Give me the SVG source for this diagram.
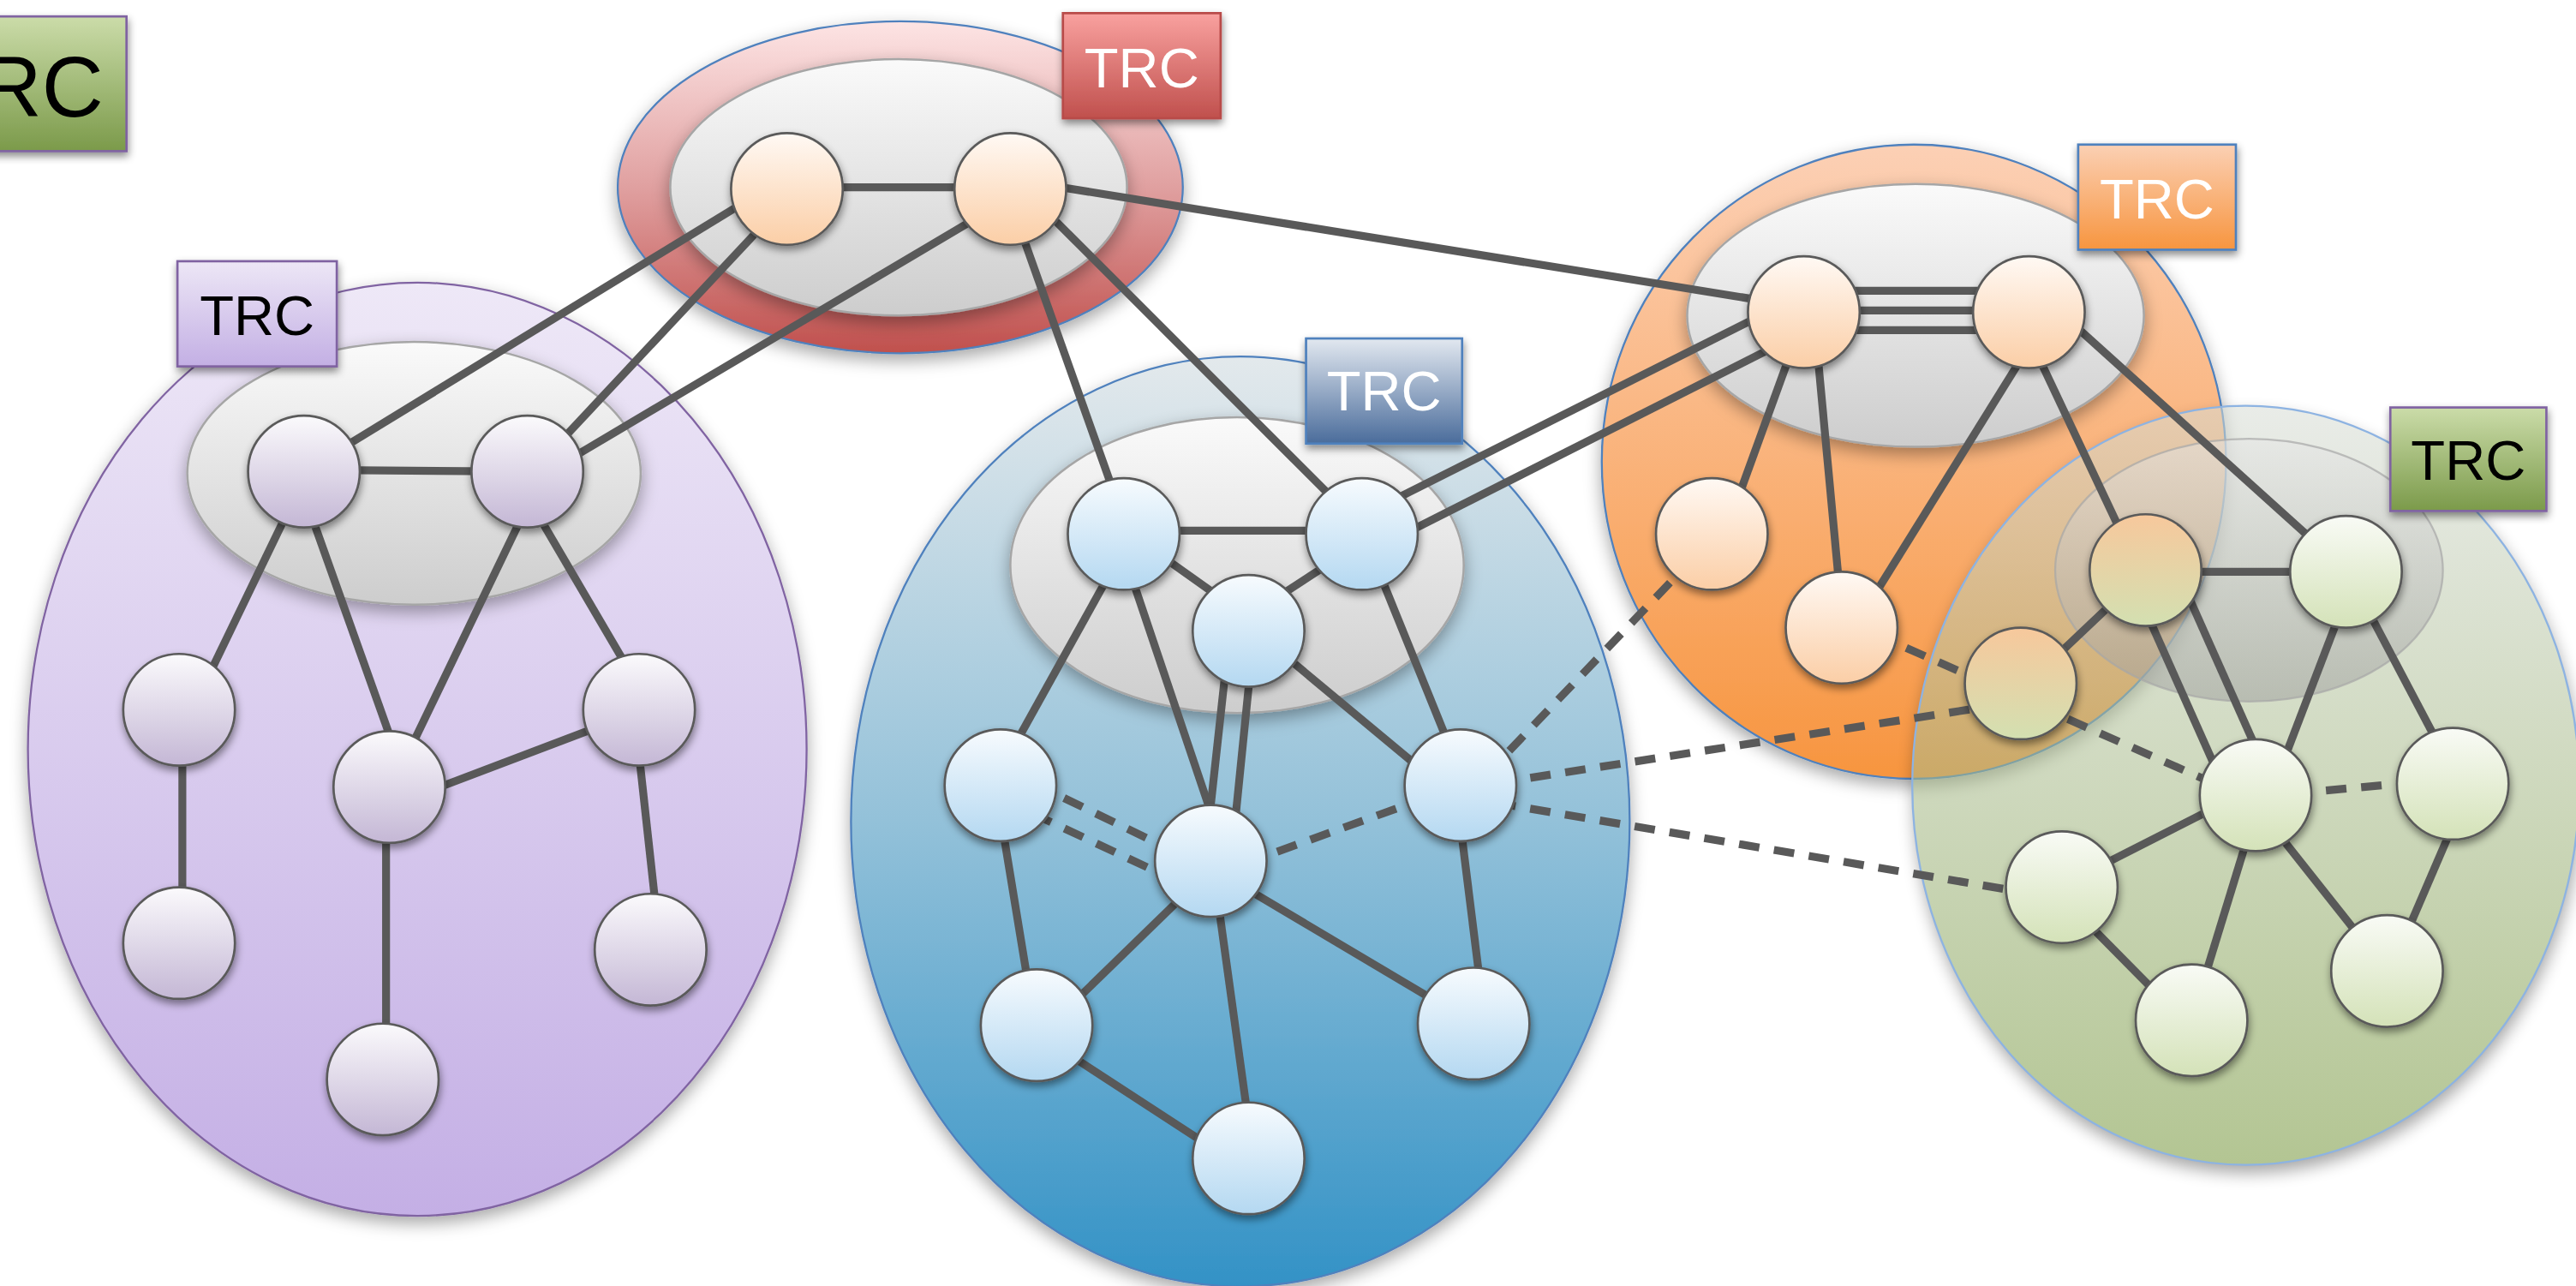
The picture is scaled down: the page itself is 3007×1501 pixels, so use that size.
<svg xmlns="http://www.w3.org/2000/svg" width="3007" height="1501" viewBox="0 0 3007 1501">
  <style>
    .edge { stroke: #595959; stroke-width: 4.8; fill: none; stroke-linecap: butt; }
    .dash { stroke-dasharray: 12.5 9; }
    .node { stroke: #5a5a5a; stroke-width: 1.4; filter: url(#nodeShadow); }
    .core { stroke: #a6a6a6; stroke-width: 1.3; fill: url(#gCore); filter: url(#clusterShadow); }
    .trc rect { stroke-width: 1.4; filter: url(#nodeShadow); }
    .trc text { font-family: "Liberation Sans", Arial, Helvetica, sans-serif; font-size: 34px; text-anchor: middle; }
    .pNode { fill: url(#gNodePurple); }
    .rNode { fill: url(#gNodePeach); }
    .bNode { fill: url(#gNodeBlue); }
    .gNode { fill: url(#gNodeGreen); }
    .tNode { fill: url(#gNodeTan); }
  </style>
  <defs>
    <filter id="clusterShadow" x="-20%" y="-20%" width="140%" height="150%">
      <feDropShadow dx="0" dy="4" stdDeviation="5" flood-color="#000" flood-opacity="0.35"/>
    </filter>
    <filter id="nodeShadow" x="-40%" y="-40%" width="180%" height="190%">
      <feDropShadow dx="0.5" dy="2.5" stdDeviation="2.5" flood-color="#000" flood-opacity="0.45"/>
    </filter>
    <filter id="softBlur" x="-20%" y="-20%" width="140%" height="150%">
      <feGaussianBlur stdDeviation="5"/>
    </filter>
    <mask id="outsideGreen" maskUnits="userSpaceOnUse" x="1100" y="200" width="520" height="600">
      <rect x="1100" y="200" width="520" height="600" fill="#fff"/>
      <ellipse cx="1367" cy="478" rx="203" ry="231" fill="#000"/>
    </mask>

    <!-- cluster fills -->
    <linearGradient id="gPurple" x1="0" y1="0" x2="0" y2="1">
      <stop offset="0" stop-color="#eee8f7"/><stop offset="1" stop-color="#c4afe5"/>
    </linearGradient>
    <linearGradient id="gRed" x1="0" y1="0" x2="0" y2="1">
      <stop offset="0" stop-color="#fde4e4"/><stop offset="0.5" stop-color="#e0a0a0"/><stop offset="1" stop-color="#c0504d"/>
    </linearGradient>
    <linearGradient id="gBlue" x1="0" y1="0" x2="0" y2="1">
      <stop offset="0" stop-color="#e3e9ec"/><stop offset="0.5" stop-color="#93c1d9"/><stop offset="1" stop-color="#3392c6"/>
    </linearGradient>
    <linearGradient id="gOrange" x1="0" y1="0" x2="0" y2="1">
      <stop offset="0" stop-color="#fcd0b5"/><stop offset="1" stop-color="#f7953f"/>
    </linearGradient>
    <linearGradient id="gGreen" x1="0" y1="0" x2="0" y2="1">
      <stop offset="0" stop-color="#d7dcd5" stop-opacity="0.55"/><stop offset="1" stop-color="#75963a" stop-opacity="0.55"/>
    </linearGradient>
    <linearGradient id="gCore" x1="0" y1="0" x2="0" y2="1">
      <stop offset="0" stop-color="#fafafa"/><stop offset="1" stop-color="#cdcdcd"/>
    </linearGradient>
    <linearGradient id="gCoreGlass" x1="0" y1="0" x2="0" y2="1">
      <stop offset="0" stop-color="#e6e6e6" stop-opacity="0.5"/><stop offset="1" stop-color="#9c9c9c" stop-opacity="0.5"/>
    </linearGradient>

    <!-- node fills -->
    <linearGradient id="gNodePurple" x1="0" y1="0" x2="0" y2="1">
      <stop offset="0" stop-color="#fbfafc"/><stop offset="1" stop-color="#c4b7d5"/>
    </linearGradient>
    <linearGradient id="gNodePeach" x1="0" y1="0" x2="0" y2="1">
      <stop offset="0" stop-color="#fff9f4"/><stop offset="1" stop-color="#fbcea6"/>
    </linearGradient>
    <linearGradient id="gNodeBlue" x1="0" y1="0" x2="0" y2="1">
      <stop offset="0" stop-color="#f7fbfe"/><stop offset="1" stop-color="#b4d8f1"/>
    </linearGradient>
    <linearGradient id="gNodeGreen" x1="0" y1="0" x2="0" y2="1">
      <stop offset="0" stop-color="#f9fbf6"/><stop offset="1" stop-color="#d4e2b8"/>
    </linearGradient>
    <linearGradient id="gNodeTan" x1="0" y1="0" x2="0" y2="1">
      <stop offset="0" stop-color="#f7c89c"/><stop offset="1" stop-color="#d3e0b1"/>
    </linearGradient>

    <!-- label boxes -->
    <linearGradient id="gTrcGreen" x1="0" y1="0" x2="0" y2="1">
      <stop offset="0" stop-color="#cbdca9"/><stop offset="1" stop-color="#7b9a4a"/>
    </linearGradient>
    <linearGradient id="gTrcPurple" x1="0" y1="0" x2="0" y2="1">
      <stop offset="0" stop-color="#ede7f6"/><stop offset="1" stop-color="#c3afe4"/>
    </linearGradient>
    <linearGradient id="gTrcRed" x1="0" y1="0" x2="0" y2="1">
      <stop offset="0" stop-color="#f9a19f"/><stop offset="1" stop-color="#c0504d"/>
    </linearGradient>
    <linearGradient id="gTrcBlue" x1="0" y1="0" x2="0" y2="1">
      <stop offset="0" stop-color="#e2e8f0"/><stop offset="1" stop-color="#4a6c9b"/>
    </linearGradient>
    <linearGradient id="gTrcOrange" x1="0" y1="0" x2="0" y2="1">
      <stop offset="0" stop-color="#fbd0b4"/><stop offset="1" stop-color="#f7953f"/>
    </linearGradient>
  </defs>

  <g transform="scale(1.9177)">
    <!-- cluster areas -->
    <g id="cluster-purple">
      <ellipse cx="254" cy="456" rx="237" ry="284" fill="url(#gPurple)" stroke="#8064a2" stroke-width="1.2" filter="url(#clusterShadow)"/>
      <ellipse class="core" cx="252" cy="288" rx="138" ry="80"/>
    </g>
    <g id="cluster-red">
      <ellipse cx="548" cy="114" rx="172" ry="101" fill="url(#gRed)" stroke="#4f81bd" stroke-width="1.2" filter="url(#clusterShadow)"/>
      <ellipse class="core" cx="547" cy="114" rx="139" ry="78"/>
    </g>
    <g id="cluster-blue">
      <ellipse cx="755" cy="500" rx="237" ry="283" fill="url(#gBlue)" stroke="#4f81bd" stroke-width="1.2" filter="url(#clusterShadow)"/>
      <ellipse class="core" cx="753" cy="344" rx="138" ry="90"/>
    </g>
    <g id="cluster-orange">
      <ellipse cx="1165" cy="281" rx="190" ry="193" fill="url(#gOrange)" stroke="#4f81bd" stroke-width="1.2" filter="url(#clusterShadow)"/>
      <ellipse class="core" cx="1166" cy="192" rx="139" ry="80"/>
    </g>
    <g id="cluster-green">
      <ellipse cx="1368" cy="483" rx="203" ry="231" fill="#000" opacity="0.35" filter="url(#softBlur)" mask="url(#outsideGreen)"/>
      <ellipse cx="1367" cy="478" rx="203" ry="231" fill="url(#gGreen)" stroke="#8db3e2" stroke-width="1.2"/>
      <ellipse cx="1369" cy="347" rx="118" ry="80" fill="url(#gCoreGlass)" stroke="#a6a6a6" stroke-opacity="0.7" stroke-width="1.2"/>
    </g>

    <!-- links -->
    <g id="connectors">
      <!-- red core -->
      <line class="edge" x1="479" y1="114" x2="615" y2="114"/>
      <!-- red to purple -->
      <line class="edge" x1="468" y1="114" x2="185" y2="287"/>
      <line class="edge" x1="486" y1="114" x2="324" y2="287"/>
      <line class="edge" x1="626" y1="114" x2="334" y2="287"/>
      <!-- red to blue -->
      <line class="edge" x1="612" y1="114" x2="687" y2="325"/>
      <line class="edge" x1="622" y1="114" x2="833" y2="325"/>
      <!-- red to orange -->
      <line class="edge" x1="615" y1="109" x2="1098" y2="187"/>

      <!-- purple -->
      <line class="edge" x1="185" y1="286" x2="321" y2="287"/>
      <line class="edge" x1="187" y1="287" x2="117" y2="432"/>
      <line class="edge" x1="180" y1="287" x2="248" y2="478"/>
      <line class="edge" x1="331" y1="287" x2="239" y2="478"/>
      <line class="edge" x1="312" y1="287" x2="397" y2="432"/>
      <line class="edge" x1="236" y1="491" x2="389" y2="433"/>
      <line class="edge" x1="111" y1="431" x2="111" y2="574"/>
      <line class="edge" x1="235" y1="478" x2="235" y2="657"/>
      <line class="edge" x1="386" y1="432" x2="402" y2="578"/>

      <!-- blue -->
      <line class="edge" x1="684" y1="323" x2="829" y2="323"/>
      <line class="edge" x1="684" y1="322" x2="760" y2="376"/>
      <line class="edge" x1="760" y1="375" x2="829" y2="330"/>
      <line class="edge" x1="689" y1="325" x2="604" y2="478"/>
      <line class="edge" x1="680" y1="325" x2="747" y2="524"/>
      <line class="edge" x1="748.6" y1="384" x2="733.3" y2="524"/>
      <line class="edge" x1="763.5" y1="384" x2="749.4" y2="524"/>
      <line class="edge" x1="770" y1="389" x2="889" y2="488"/>
      <line class="edge" x1="830" y1="325" x2="892" y2="478"/>
      <line class="edge" x1="606" y1="478" x2="630" y2="624"/>
      <line class="edge" x1="631" y1="632" x2="737" y2="529"/>
      <line class="edge" x1="738" y1="524" x2="763" y2="705"/>
      <line class="edge" x1="631" y1="629" x2="760" y2="713"/>
      <line class="edge" x1="737" y1="528" x2="897" y2="623"/>
      <line class="edge" x1="886" y1="478" x2="904" y2="623"/>
      <line class="edge dash" x1="609" y1="467" x2="737" y2="529"/>
      <line class="edge dash" x1="609" y1="486" x2="737" y2="546"/>
      <line class="edge dash" x1="737" y1="533" x2="889" y2="478"/>

      <!-- blue to orange / green -->
      <line class="edge" x1="829" y1="314" x2="1098" y2="179"/>
      <line class="edge" x1="829" y1="338" x2="1098" y2="202"/>
      <line class="edge dash" x1="889" y1="488" x2="1042" y2="328"/>
      <line class="edge dash" x1="889" y1="480" x2="1230" y2="427"/>
      <line class="edge dash" x1="889" y1="485" x2="1255" y2="547"/>

      <!-- orange -->
      <line class="edge" x1="1098" y1="177" x2="1235" y2="177"/>
      <line class="edge" x1="1098" y1="189" x2="1235" y2="189"/>
      <line class="edge" x1="1098" y1="201" x2="1235" y2="201"/>
      <line class="edge" x1="1099" y1="190" x2="1050" y2="325"/>
      <line class="edge" x1="1104" y1="190" x2="1122" y2="383"/>
      <line class="edge" x1="1248" y1="190" x2="1128" y2="383"/>
      <line class="edge" x1="1228" y1="190" x2="1302" y2="347"/>
      <line class="edge" x1="1235" y1="173" x2="1428" y2="347"/>
      <line class="edge dash" x1="1121" y1="377" x2="1373" y2="488"/>

      <!-- green -->
      <line class="edge" x1="1230" y1="420" x2="1306" y2="348"/>
      <line class="edge" x1="1306" y1="348" x2="1428" y2="348"/>
      <line class="edge" x1="1295" y1="347" x2="1356" y2="484"/>
      <line class="edge" x1="1325" y1="347" x2="1386" y2="484"/>
      <line class="edge" x1="1434" y1="348" x2="1382" y2="484"/>
      <line class="edge" x1="1429" y1="348" x2="1497" y2="477"/>
      <line class="edge" x1="1373" y1="479" x2="1255" y2="539"/>
      <line class="edge" x1="1255" y1="546" x2="1334" y2="626"/>
      <line class="edge" x1="1376" y1="484" x2="1334" y2="621"/>
      <line class="edge" x1="1373" y1="490" x2="1453" y2="591"/>
      <line class="edge" x1="1504" y1="477" x2="1455" y2="591"/>
      <line class="edge dash" x1="1373" y1="485" x2="1493" y2="474"/>
    </g>

    <!-- routers: red cluster -->
    <g id="r1"><circle class="node rNode" cx="479" cy="115" r="34"/></g>
    <g id="r2"><circle class="node rNode" cx="615" cy="115" r="34"/></g>

    <!-- routers: purple cluster -->
    <g id="p1"><circle class="node pNode" cx="185" cy="287" r="34"/></g>
    <g id="p2"><circle class="node pNode" cx="321" cy="287" r="34"/></g>
    <g id="p3"><circle class="node pNode" cx="109" cy="432" r="34"/></g>
    <g id="p4"><circle class="node pNode" cx="237" cy="479" r="34"/></g>
    <g id="p5"><circle class="node pNode" cx="389" cy="432" r="34"/></g>
    <g id="p6"><circle class="node pNode" cx="109" cy="574" r="34"/></g>
    <g id="p7"><circle class="node pNode" cx="396" cy="578" r="34"/></g>
    <g id="p8"><circle class="node pNode" cx="233" cy="657" r="34"/></g>

    <!-- routers: blue cluster -->
    <g id="b1"><circle class="node bNode" cx="684" cy="325" r="34"/></g>
    <g id="b2"><circle class="node bNode" cx="829" cy="325" r="34"/></g>
    <g id="b3"><circle class="node bNode" cx="760" cy="384" r="34"/></g>
    <g id="b4"><circle class="node bNode" cx="609" cy="478" r="34"/></g>
    <g id="b5"><circle class="node bNode" cx="737" cy="524" r="34"/></g>
    <g id="b6"><circle class="node bNode" cx="889" cy="478" r="34"/></g>
    <g id="b7"><circle class="node bNode" cx="631" cy="624" r="34"/></g>
    <g id="b8"><circle class="node bNode" cx="897" cy="623" r="34"/></g>
    <g id="b9"><circle class="node bNode" cx="760" cy="705" r="34"/></g>

    <!-- routers: orange cluster -->
    <g id="o1"><circle class="node rNode" cx="1098" cy="190" r="34"/></g>
    <g id="o2"><circle class="node rNode" cx="1235" cy="190" r="34"/></g>
    <g id="o3"><circle class="node rNode" cx="1042" cy="325" r="34"/></g>
    <g id="o4"><circle class="node rNode" cx="1121" cy="382" r="34"/></g>

    <!-- routers: green cluster -->
    <g id="g1"><circle class="node tNode" cx="1230" cy="416" r="34"/></g>
    <g id="g2"><circle class="node tNode" cx="1306" cy="347" r="34"/></g>
    <g id="g3"><circle class="node gNode" cx="1428" cy="348" r="34"/></g>
    <g id="g4"><circle class="node gNode" cx="1373" cy="484" r="34"/></g>
    <g id="g5"><circle class="node gNode" cx="1493" cy="477" r="34"/></g>
    <g id="g6"><circle class="node gNode" cx="1255" cy="540" r="34"/></g>
    <g id="g7"><circle class="node gNode" cx="1334" cy="621" r="34"/></g>
    <g id="g8"><circle class="node gNode" cx="1453" cy="591" r="34"/></g>

    <!-- TRC labels -->
    <g id="trc-corner" class="trc">
      <rect x="-10" y="10" width="87" height="82" fill="url(#gTrcGreen)" stroke="#8064a2"/>
      <text x="63" y="71" style="font-size:52px;text-anchor:end" fill="#000">TRC</text>
    </g>
    <g id="trc-purple" class="trc">
      <rect x="108" y="159" width="97" height="64" fill="url(#gTrcPurple)" stroke="#8064a2"/>
      <text x="156.5" y="204" fill="#000">TRC</text>
    </g>
    <g id="trc-red" class="trc">
      <rect x="647" y="8" width="96" height="64" fill="url(#gTrcRed)" stroke="#b84b48"/>
      <text x="695" y="53" fill="#fff">TRC</text>
    </g>
    <g id="trc-blue" class="trc">
      <rect x="795" y="206" width="95" height="64" fill="url(#gTrcBlue)" stroke="#4f81bd"/>
      <text x="842.5" y="250" fill="#fff">TRC</text>
    </g>
    <g id="trc-orange" class="trc">
      <rect x="1265" y="88" width="96" height="64" fill="url(#gTrcOrange)" stroke="#4f81bd"/>
      <text x="1313" y="133" fill="#fff">TRC</text>
    </g>
    <g id="trc-green" class="trc">
      <rect x="1455" y="248" width="95" height="63" fill="url(#gTrcGreen)" stroke="#8064a2"/>
      <text x="1502.5" y="292" fill="#000">TRC</text>
    </g>
  </g>
</svg>
